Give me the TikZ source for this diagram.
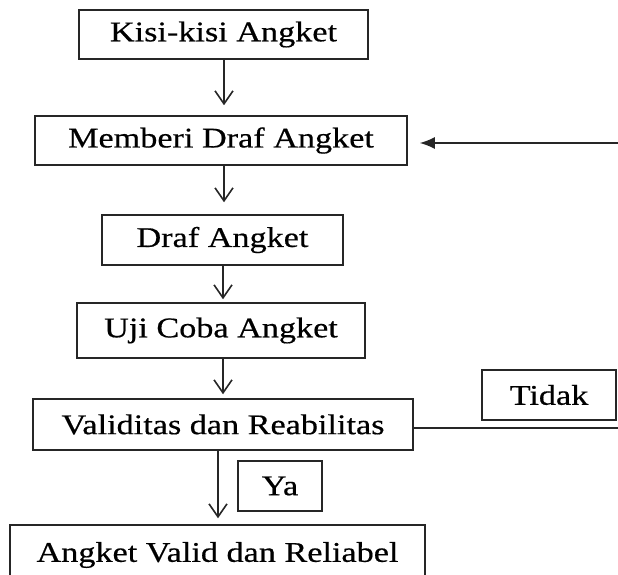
\documentclass[tikz,border=0pt]{standalone}
\usepackage{fontspec}
\setmainfont{Liberation Serif}[FakeStretch=1.2,FakeBold=0.5]
\usetikzlibrary{arrows.meta}
\tikzset{
  box/.style={draw=black!85, line width=1.5pt, inner sep=0pt, align=center,
    font=\fontsize{28.5}{34}\selectfont},
  arr/.style={draw=black!85, line width=1.6pt, -{Straight Barb[length=13pt,width=18pt]}},
  arrfill/.style={draw=black!85, line width=1.6pt, -{Latex[length=15pt,width=12pt]}},
  plain/.style={draw=black!85, line width=1.5pt}
}
\begin{document}
\begin{tikzpicture}[x=1pt,y=-1pt]
\useasboundingbox (0,0) rectangle (618,575);
\node[box, minimum width=289pt, minimum height=49pt] (b1) at (223.5,34.5) {Kisi-kisi Angket};
\node[box, minimum width=372pt, minimum height=49pt] (b2) at (221,140.5) {Memberi Draf Angket};
\node[box, minimum width=241pt, minimum height=50pt] (b3) at (222.5,240) {Draf Angket};
\node[box, minimum width=288pt, minimum height=55pt] (b4) at (221,330.5) {Uji Coba Angket};
\node[box, minimum width=380pt, minimum height=51pt] (b5) at (223,424.5) {Validitas dan Reabilitas};
\node[box, minimum width=134pt, minimum height=50pt] (tidak) at (549,395) {Tidak};
\node[box, minimum width=84pt, minimum height=50pt] (ya) at (280,486) {Ya};
\node[box, minimum width=415pt, minimum height=60pt] (b6) at (217.5,555) {Angket Valid dan Reliabel};
\coordinate (in) at (618,143);
\coordinate (out) at (618,428);
\draw[arr, shorten >=10pt] ([xshift=0.5pt]b1.south) -- ([xshift=0.5pt]b1.south |- b2.north);
\draw[arr, shorten >=12pt] ([xshift=3pt]b2.south) -- ([xshift=3pt]b2.south |- b3.north);
\draw[arr, shorten >=3pt] ([xshift=0.5pt]b3.south) -- ([xshift=0.5pt]b3.south |- b4.north);
\draw[arr, shorten >=4pt] ([xshift=2pt]b4.south) -- ([xshift=2pt]b4.south |- b5.north);
\draw[arr, shorten >=6pt] ([xshift=-5pt]b5.south) -- ([xshift=-5pt]b5.south |- b6.north);
\draw[arrfill, shorten >=12pt] (in) -- (in -| b2.east);
\draw[plain] (b5.east |- out) -- (out);
\end{tikzpicture}
\end{document}
